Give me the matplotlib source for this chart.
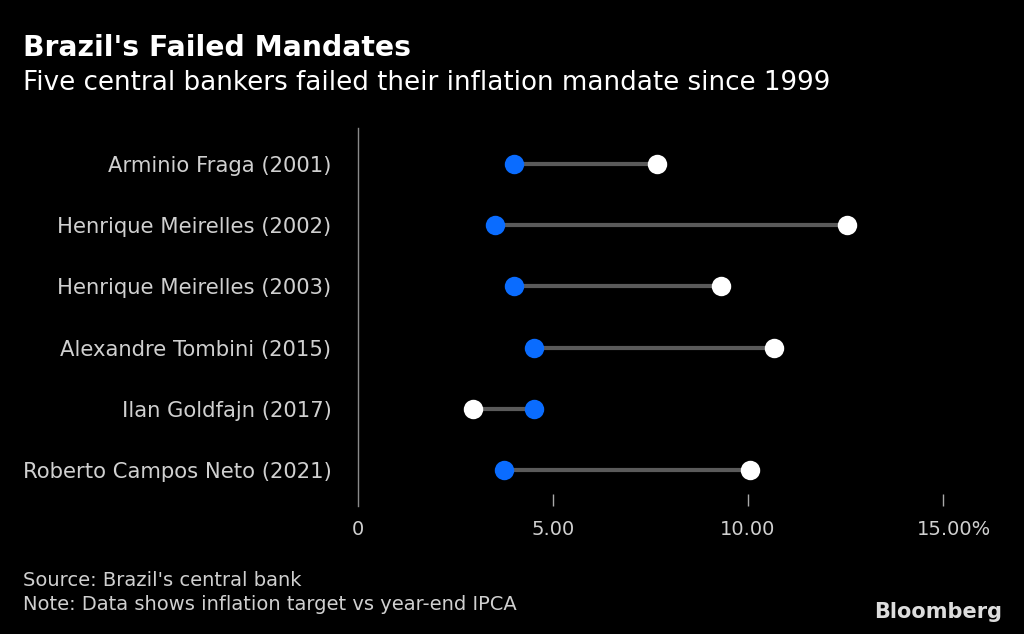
import numpy as np
import matplotlib.pyplot as plt
import matplotlib.transforms as mtransforms

# Data: inflation target vs year-end IPCA (%)
bankers = ["Arminio Fraga (2001)", "Henrique Meirelles (2002)", "Henrique Meirelles (2003)",
           "Alexandre Tombini (2015)", "Ilan Goldfajn (2017)", "Roberto Campos Neto (2021)"]
target = [4.0, 3.5, 4.0, 4.5, 4.5, 3.75]
ipca = [7.67, 12.53, 9.30, 10.67, 2.95, 10.06]
xticks = [0, 5, 10, 15]
xticklabels = ["0", "5.00", "10.00", "15.00%"]

bg = "black"
txt = "#d0d0d0"
blue = "#0a6cff"

fig = plt.figure(figsize=(10.24, 6.34), dpi=100, facecolor=bg)
ax = fig.add_axes([358/1024, 1-506/634, (943-358)/1024, (506-128)/634])
ax.set_facecolor(bg)

y = np.arange(len(bankers))
ax.hlines(y, target, ipca, color="#5a5a5a", lw=3, zorder=1)
ax.plot(ipca, y, "o", color="white", ms=14, mec="none", zorder=3)
ax.plot(target, y, "o", color=blue, ms=14, mec="none", zorder=3)

ax.set_xlim(0, 15)
ax.set_ylim(5.59, -0.59)
for s in ["top", "right", "bottom"]:
    ax.spines[s].set_visible(False)
ax.spines["left"].set_color("#8a8a8a")
ax.spines["left"].set_linewidth(1)

ax.set_yticks(y)
ax.set_yticklabels(bankers, fontsize=15.2, color=txt)
ax.tick_params(axis="y", length=0, pad=19)

ax.set_xticks(xticks)
ax.set_xticklabels(xticklabels, fontsize=14, color=txt)
ax.tick_params(axis="x", direction="in", length=9, width=1, color="#aaaaaa", pad=10)
ax.xaxis.get_major_ticks()[0].tick1line.set_visible(False)
# the "%" hangs off the right of the last label, keep "15.00" centred on its tick
last = ax.get_xticklabels()[-1]
last.set_transform(last.get_transform() + mtransforms.ScaledTranslation(0.11, 0, fig.dpi_scale_trans))

fig.text(23/1024, 1-48/634, "Brazil's Failed Mandates", fontsize=20.3, fontweight="bold",
         color="white", va="center")
fig.text(23/1024, 1-83/634, "Five central bankers failed their inflation mandate since 1999",
         fontsize=18.8, color="white", va="center")
fig.text(23/1024, 1-580/634, "Source: Brazil's central bank", fontsize=14, color=txt, va="center")
fig.text(23/1024, 1-604/634, "Note: Data shows inflation target vs year-end IPCA", fontsize=14,
         color=txt, va="center")
fig.text(1002/1024, 1-612/634, "Bloomberg", fontsize=15, fontweight="bold", color="#dddddd",
         ha="right", va="center")

fig.savefig("out.png", dpi=100, facecolor=bg)
